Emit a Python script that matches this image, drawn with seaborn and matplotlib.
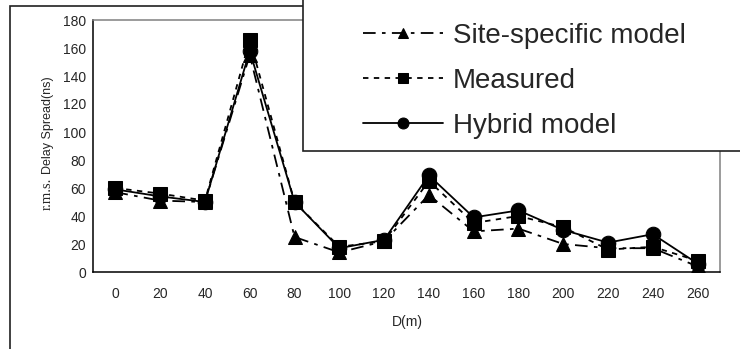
import numpy as np
import pandas as pd
import matplotlib
matplotlib.use("Agg")
import matplotlib.pyplot as plt
from matplotlib import font_manager
from matplotlib.patches import Rectangle
import seaborn as sns

# ---- data ----
distances = [0, 20, 40, 60, 80, 100, 120, 140, 160, 180, 200, 220, 240, 260]
site_specific = [57, 51, 50, 155, 25, 14, 22, 55, 29, 31, 20, 17, 17, 4]
measured = [60, 56, 51, 166, 50, 18, 22, 65, 35, 40, 32, 16, 18, 8]
hybrid = [59, 54, 50, 158, 50, 17, 23, 69, 39, 44, 30, 21, 27, 6]
series_names = ["Site-specific model", "Measured", "Hybrid model"]
y_ticks = [0, 20, 40, 60, 80, 100, 120, 140, 160, 180]

sns.set_style("white")
names = {f.name for f in font_manager.fontManager.ttflist}
narrow = "Liberation Sans Narrow" if "Liberation Sans Narrow" in names else "Liberation Sans"
plt.rcParams["font.family"] = ["Liberation Sans", "DejaVu Sans"]

W, H = 740, 349
fig = plt.figure(figsize=(W / 100, H / 100), dpi=100)
fig.patch.set_facecolor("white")

def fx(px):
    return px / W

def fy(py):
    return 1 - py / H

ax = fig.add_axes([fx(93), fy(272), fx(720) - fx(93), fy(20) - fy(272)])

pos = np.arange(len(distances))
df = pd.DataFrame({"pos": pos, "site": site_specific, "meas": measured, "hyb": hybrid})

lw = 1.3
ms = 10.5
sns.lineplot(data=df, x="pos", y="site", ax=ax, color="black", lw=lw,
             linestyle=(0, (7, 3.5, 2, 3.5)), marker="^", markersize=ms,
             markeredgecolor="black", label=series_names[0], legend=False)
sns.lineplot(data=df, x="pos", y="meas", ax=ax, color="black", lw=lw,
             linestyle=(0, (3, 3)), marker="s", markersize=ms,
             markeredgecolor="black", label=series_names[1], legend=False)
sns.lineplot(data=df, x="pos", y="hyb", ax=ax, color="black", lw=lw,
             linestyle="-", marker="o", markersize=ms,
             markeredgecolor="black", label=series_names[2], legend=False)

ax.set_xlim(-0.5, len(distances) - 0.5)
ax.set_ylim(0, 180)
ax.set_xticks(pos)
ax.set_xticklabels([str(d) for d in distances], fontfamily=narrow, fontsize=10)
ax.set_xticks(np.arange(-0.5, len(distances)), minor=True)
ax.tick_params(axis="x", which="major", length=0, pad=11)
ax.tick_params(axis="x", which="minor", direction="in", length=3.6, width=1, color="black")
ax.set_yticks(y_ticks)
ax.set_yticklabels([str(v) for v in y_ticks], fontfamily=narrow, fontsize=10)
ax.tick_params(axis="y", which="major", direction="out", length=3, width=1, pad=2, color="black")
ax.set_xlabel("")
ax.set_ylabel("")

for side in ["left", "bottom"]:
    ax.spines[side].set_color("black")
    ax.spines[side].set_linewidth(1.1)
for side in ["top", "right"]:
    ax.spines[side].set_color("#808080")
    ax.spines[side].set_linewidth(1.1)

# axis labels
fig.text(fx(407), fy(322), "D(m)", ha="center", va="center", fontfamily=narrow, fontsize=10)
fig.text(fx(51), fy(210), "r.m.s.", rotation=90, rotation_mode="anchor",
         ha="left", va="baseline", fontfamily="Liberation Serif", fontsize=10.5)
fig.text(fx(51), fy(174), "Delay Spread(ns)", rotation=90, rotation_mode="anchor",
         ha="left", va="baseline", fontfamily=narrow, fontsize=9)

# figure border
fig.patches.append(Rectangle((fx(10), -0.2), 1.5, fy(6) + 0.2, transform=fig.transFigure,
                             fill=False, edgecolor="#202020", lw=1.2, zorder=3))
# legend box
fig.patches.append(Rectangle((fx(303), fy(151)), 1.0, fy(6) - fy(151) + 0.05,
                             transform=fig.transFigure, facecolor="white",
                             edgecolor="#202020", lw=1.2, zorder=4))
handles, labels = ax.get_legend_handles_labels()
leg = fig.legend(handles, labels, loc="upper left", bbox_to_anchor=(fx(363), fy(23)),
                 bbox_transform=fig.transFigure, frameon=False, fontsize=20,
                 handlelength=2.88, handletextpad=0.36, labelspacing=0.68,
                 borderpad=0, borderaxespad=0, markerscale=0.75)
leg.set_zorder(5)

fig.savefig("out.png", dpi=100)
